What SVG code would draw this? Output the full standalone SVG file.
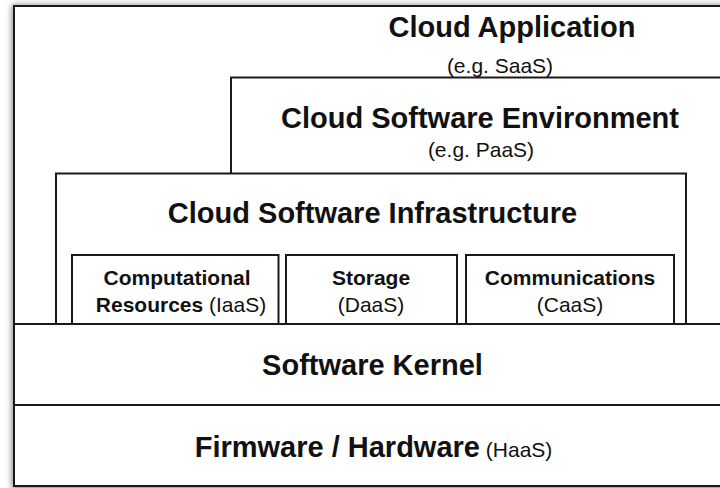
<svg xmlns="http://www.w3.org/2000/svg" width="720" height="488" viewBox="0 0 720 488">
<defs>
<filter id="shadow" x="-5%" y="-5%" width="110%" height="110%">
<feGaussianBlur stdDeviation="3"/>
</filter>
</defs>
<style>
.box{fill:#ffffff;stroke:#1a1a1a;stroke-width:2}
.t{font-family:"Liberation Sans",Arial,Helvetica,sans-serif;font-weight:bold;font-size:29px;fill:#111111;text-anchor:middle}
.s{font-family:"Liberation Sans",Arial,Helvetica,sans-serif;font-weight:normal;font-size:21px;fill:#111111;text-anchor:middle}
.b{font-family:"Liberation Sans",Arial,Helvetica,sans-serif;font-weight:bold;font-size:21px;fill:#111111;text-anchor:middle}
.r{font-weight:normal}
</style>
<rect width="720" height="488" fill="#ffffff"/>
<rect x="12" y="5" width="722" height="484" fill="#808080" filter="url(#shadow)"/>
<g id="cloud-application">
<rect class="box" x="14" y="6" width="720" height="480"/>
<text class="t" x="512" y="37">Cloud Application</text>
<text class="s" x="500" y="73">(e.g. SaaS)</text>
</g>
<g id="cloud-software-environment">
<path class="box" d="M231,174 V77.5 H734 V174"/>
<text class="t" x="480" y="128">Cloud Software Environment</text>
<text class="s" x="481" y="157">(e.g. PaaS)</text>
</g>
<g id="cloud-software-infrastructure">
<rect class="box" x="56" y="173.5" width="630" height="151"/>
<text class="t" x="372.5" y="223">Cloud Software Infrastructure</text>
</g>
<g id="computational-resources">
<rect class="box" x="72" y="255" width="206.5" height="70"/>
<text class="b" x="177" y="285">Computational</text>
<text class="b" x="181" y="312">Resources<tspan class="r"> (IaaS)</tspan></text>
</g>
<g id="storage">
<rect class="box" x="286" y="255" width="171" height="70"/>
<text class="b" x="371" y="285">Storage</text>
<text class="s" x="371" y="312">(DaaS)</text>
</g>
<g id="communications">
<rect class="box" x="466" y="255" width="208" height="70"/>
<text class="b" x="570" y="285">Communications</text>
<text class="s" x="570" y="312">(CaaS)</text>
</g>
<g id="software-kernel">
<rect class="box" x="14" y="324" width="720" height="81"/>
<text class="t" x="372.5" y="375">Software Kernel</text>
</g>
<g id="firmware-hardware">
<rect class="box" x="14" y="405" width="720" height="81"/>
<text class="t" x="373.5" y="457">Firmware / Hardware<tspan font-weight="normal" font-size="21px"> (HaaS)</tspan></text>
</g>
<g id="connectors"></g>
</svg>
